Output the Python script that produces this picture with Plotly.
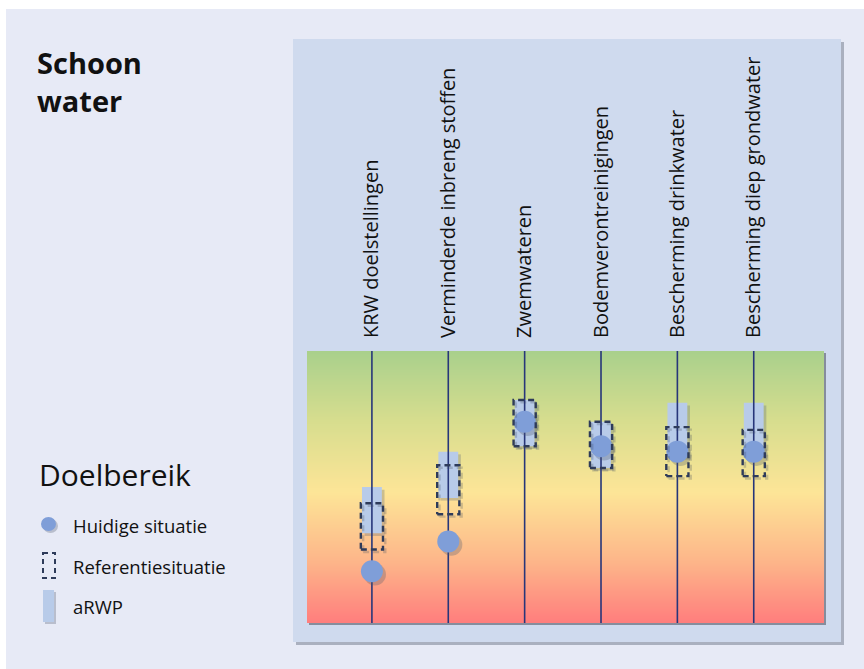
import plotly.graph_objects as go

# ---------------- data ----------------
categories = ["KRW doelstellingen", "Verminderde inbreng stoffen", "Zwemwateren",
              "Bodemverontreinigingen", "Bescherming drinkwater", "Bescherming diep grondwater"]
huidig = [19, 30, 74, 65, 63, 63]          # Huidige situatie (circle)
ref_low = [27, 40, 65, 57, 54, 54]         # Referentiesituatie (dashed box)
ref_high = [44, 58, 82, 74, 72, 71]
arwp_low = [33, 46, 65, 57, 61, 62]        # aRWP (filled box)
arwp_high = [50, 63, 82, 74, 81, 81]

grad_vals = [0, 22, 48, 75, 100]
grad_colors = ["#ff7d7d", "#fdb489", "#fde597", "#d6dd8e", "#a9d08c"]

# ---------------- geometry helpers ----------------
W, H = 864, 669
L, R, T, B = 307, 824, 351, 623
def px(x):
    return (x - L) / (R - L)
def py(y):
    return (B - y) / (B - T)

idx = list(range(len(categories)))
FONT = "Open Sans"
NAVY = "#27367a"
DASH = "#2e3b5a"
CIRCLE = "#7f9ed8"
BOX = "#b8cbe9"

fig = go.Figure()

# gradient background (plot area)
fig.add_trace(go.Heatmap(
    x=[-0.85, 5.92], y=grad_vals, z=[[v, v] for v in grad_vals],
    colorscale=[[v / 100, c] for v, c in zip(grad_vals, grad_colors)],
    zsmooth="best", showscale=False, hoverinfo="skip"))

# vertical lines
lx, ly = [], []
for i in idx:
    lx += [i, i, None]
    ly += [0, 100, None]
fig.add_trace(go.Scatter(x=lx, y=ly, mode="lines", line=dict(color=NAVY, width=1.6),
                         hoverinfo="skip", showlegend=False))

# aRWP shadow + boxes
fig.add_trace(go.Bar(x=[i + 0.035 for i in idx], y=[h - l for l, h in zip(arwp_low, arwp_high)],
                     base=[l - 1.0 for l in arwp_low], width=0.26,
                     marker=dict(color="rgba(90,100,120,0.30)", line=dict(width=0)),
                     hoverinfo="skip", showlegend=False))
fig.add_trace(go.Bar(x=idx, y=[h - l for l, h in zip(arwp_low, arwp_high)], base=arwp_low,
                     width=0.26, marker=dict(color=BOX, line=dict(width=0)),
                     name="aRWP", showlegend=False))

# circles shadow + circles
fig.add_trace(go.Scatter(x=[i + 0.04 for i in idx], y=[v - 1.2 for v in huidig], mode="markers",
                         marker=dict(size=22, color="rgba(80,90,110,0.30)"),
                         hoverinfo="skip", showlegend=False))
fig.add_trace(go.Scatter(x=idx, y=huidig, mode="markers",
                         marker=dict(size=22, color=CIRCLE, line=dict(width=0)),
                         name="Huidige situatie", showlegend=False))

# dashed reference boxes
hw = 0.145
for sh, col in [(1, "rgba(60,70,90,0.25)"), (0, DASH)]:
    rx, ry = [], []
    for i, lo, hi in zip(idx, ref_low, ref_high):
        xo = 0.03 * sh
        yo = -0.9 * sh
        rx += [i - hw + xo, i + hw + xo, i + hw + xo, i - hw + xo, i - hw + xo, None]
        ry += [lo + yo, lo + yo, hi + yo, hi + yo, lo + yo, None]
    fig.add_trace(go.Scatter(x=rx, y=ry, mode="lines",
                             line=dict(color=col, width=2.4, dash="6px,4px"),
                             hoverinfo="skip", showlegend=False))

# ---------------- decorative shapes ----------------
shapes = [
    # white frame strips
    dict(type="rect", xref="paper", yref="paper", x0=px(0), x1=px(W), y0=py(0), y1=py(9),
         fillcolor="white", line=dict(width=0), layer="below"),
    dict(type="rect", xref="paper", yref="paper", x0=px(0), x1=px(6), y0=py(0), y1=py(H),
         fillcolor="white", line=dict(width=0), layer="below"),
    # panel shadow + panel
    dict(type="rect", xref="paper", yref="paper", x0=px(296), x1=px(844), y0=py(42), y1=py(645),
         fillcolor="rgba(120,128,145,0.55)", line=dict(width=0), layer="below"),
    dict(type="rect", xref="paper", yref="paper", x0=px(293), x1=px(841), y0=py(39), y1=py(642),
         fillcolor="#cfdaee", line=dict(width=0), layer="below"),
    # gradient shadow
    dict(type="rect", xref="paper", yref="paper", x0=px(309), x1=px(826), y0=py(353), y1=py(625),
         fillcolor="rgba(110,115,130,0.75)", line=dict(width=0), layer="below"),
    # legend glyphs
    dict(type="circle", xref="paper", yref="paper", x0=px(43), x1=px(58), y0=py(519), y1=py(533),
         fillcolor="rgba(80,90,110,0.3)", line=dict(width=0)),
    dict(type="circle", xref="paper", yref="paper", x0=px(41), x1=px(56), y0=py(517), y1=py(531),
         fillcolor=CIRCLE, line=dict(width=0)),
    dict(type="rect", xref="paper", yref="paper", x0=px(43), x1=px(55), y0=py(553), y1=py(578),
         fillcolor="rgba(0,0,0,0)", line=dict(color=DASH, width=2, dash="5px,4px")),
    dict(type="rect", xref="paper", yref="paper", x0=px(45), x1=px(56), y0=py(592), y1=py(624),
         fillcolor="rgba(80,90,110,0.3)", line=dict(width=0)),
    dict(type="rect", xref="paper", yref="paper", x0=px(43), x1=px(54), y0=py(590), y1=py(622),
         fillcolor=BOX, line=dict(width=0)),
]

def ann(text, x, y, size, bold=False):
    return dict(text=("<b>%s</b>" % text) if bold else text, xref="paper", yref="paper",
                x=px(x), y=py(y), xanchor="left", yanchor="middle", showarrow=False,
                font=dict(family=FONT, size=size, color="#111111"))

annotations = [
    ann("Schoon", 35, 62, 29, bold=True),
    ann("water", 35, 101, 29, bold=True),
    ann("Doelbereik", 37, 474, 30),
    ann("Huidige situatie", 71, 525, 18.5),
    ann("Referentiesituatie", 71, 566, 18.5),
    ann("aRWP", 71, 606, 18.5),
]

fig.update_layout(
    width=W, height=H, autosize=False,
    margin=dict(l=L, r=W - R, t=T, b=H - B, pad=0),
    paper_bgcolor="#e7eaf6", plot_bgcolor="rgba(0,0,0,0)",
    barmode="overlay", showlegend=False,
    shapes=shapes, annotations=annotations,
    xaxis=dict(range=[-0.85, 5.92], side="top", tickmode="array", tickvals=idx,
               ticktext=categories, tickangle=-90, ticks="", ticklabelstandoff=12,
               tickfont=dict(family=FONT, size=20, color="#111111"),
               showgrid=False, zeroline=False, showline=False, fixedrange=True),
    yaxis=dict(range=[0, 100], showticklabels=False, showgrid=False, zeroline=False,
               showline=False, ticks="", fixedrange=True),
)

fig.write_html("out.html")
